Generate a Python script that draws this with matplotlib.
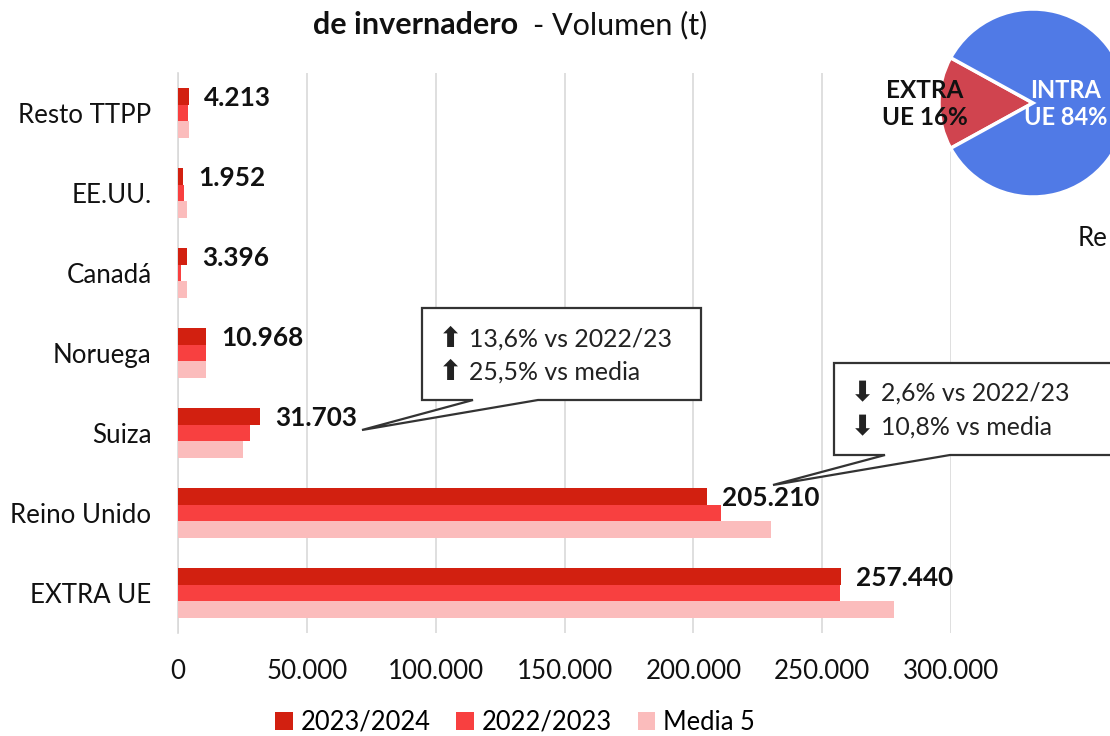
import matplotlib
matplotlib.use("Agg")
import matplotlib.pyplot as plt
from matplotlib.patches import Polygon
import numpy as np

plt.rcParams['font.family'] = ['Lato', 'DejaVu Sans']

categories = ["EXTRA UE", "Reino Unido", "Suiza", "Noruega", "Canadá", "EE.UU.", "Resto TTPP"]
v_2324 = [257440, 205210, 31703, 10968, 3396, 1952, 4213]
v_2223 = [256800, 210700, 27900, 11050, 1200, 2300, 4000]
v_media = [277700, 230100, 25300, 11000, 3300, 3500, 4400]
series_names = ["2023/2024", "2022/2023", "Media 5"]
colors = ["#D22010", "#F84040", "#FBBCBC"]
xticks = [0, 50000, 100000, 150000, 200000, 250000, 300000]
xtick_labels = ["0", "50.000", "100.000", "150.000", "200.000", "250.000", "300.000"]
pie_labels = ["EXTRA\nUE 16%", "INTRA\nUE 84%"]
pie_values = [16, 84]
pie_colors = ["#D0444F", "#507AE6"]
callout1_arrows = ["\u2b06", "\u2b06"]
callout1 = ["13,6% vs 2022/23", "25,5% vs media"]
callout2_arrows = ["\u2b07", "\u2b07"]
callout2 = ["2,6% vs 2022/23", "10,8% vs media"]

W, H = 1110, 736
fig = plt.figure(figsize=(W / 100, H / 100), dpi=100)

def fx(px):
    return px / W

def fy(py):
    return 1 - py / H

FS = 18.6

ax_l, ax_r, ax_t, ax_b = 178, 951, 73, 633
ax = fig.add_axes([fx(ax_l), fy(ax_b), fx(ax_r - ax_l), (ax_b - ax_t) / H])

y = np.arange(len(categories))
h = 0.205
ax.barh(y + h, v_2324, height=h, color=colors[0], label=series_names[0], zorder=3)
ax.barh(y, v_2223, height=h, color=colors[1], label=series_names[1], zorder=3)
ax.barh(y - h, v_media, height=h, color=colors[2], label=series_names[2], zorder=3)

ax.set_xlim(0, 300000)
ax.set_ylim(-0.5, len(categories) - 0.5)
ax.set_yticks(y)
ax.set_yticklabels(categories, fontsize=FS, color="#111111")
ax.set_xticks(xticks)
ax.set_xticklabels(xtick_labels, fontsize=FS, color="#111111")
ax.tick_params(axis='both', length=0)
ax.tick_params(axis='y', pad=19)
ax.tick_params(axis='x', pad=19)
ax.grid(axis='x', color="#D9D9D9", lw=1.2, zorder=0)
for s in ["top", "right", "bottom"]:
    ax.spines[s].set_visible(False)
ax.spines["left"].set_color("#D9D9D9")
ax.spines["left"].set_linewidth(1.2)

xpp = 300000 / (ax_r - ax_l)
for yi, v in zip(y, v_2324):
    ax.text(v + 15 * xpp, yi + h - 0.02, f"{v:,}".replace(",", "."), fontsize=18.8,
            fontweight='bold', va='center', ha='left', color="#111111", zorder=5)

def callout(box, tip, base, arrows, lines, ytext):
    x0, x1, yt, yb = box
    pts = [tip, (base[0], yb), (x0, yb), (x0, yt), (x1, yt), (x1, yb), (base[1], yb)]
    poly = Polygon(pts, closed=True, facecolor="white", edgecolor="#333333",
                   lw=1.6, clip_on=False, zorder=6, joinstyle='miter')
    ax.add_patch(poly)
    for ar, ln, yy in zip(arrows, lines, ytext):
        ax.text(x0 + 17 * xpp, yy, ar, fontsize=20, family='DejaVu Sans',
                fontweight='bold', va='center', ha='left', color="#222222",
                zorder=7, clip_on=False)
        ax.text(x0 + 47 * xpp, yy, ln, fontsize=17.9, va='center', ha='left',
                color="#222222", zorder=7, clip_on=False)

def dx(px):
    return (px - ax_l) * xpp

def dy(py):
    return (593 - py) / 80

callout((dx(422), dx(701), dy(308), dy(400)), (dx(362), dy(430)),
        (dx(473), dx(538)), callout1_arrows, callout1, (dy(339), dy(372)))
callout((dx(834), dx(1135), dy(363), dy(455)), (dx(773), dy(485)),
        (dx(885), dx(950)), callout2_arrows, callout2, (dy(393), dy(427)))

# title
fig.text(fx(313), fy(25), "de invernadero", fontsize=22, fontweight='bold',
         ha='left', va='center', color="#111111")
fig.text(fx(533), fy(25), "- Volumen (t)", fontsize=22, ha='left', va='center',
         color="#111111")

# pie
cx, cy, r = 1033, 103, 94
pax = fig.add_axes([fx(cx - r), fy(cy + r), fx(2 * r), 2 * r / H])
pax.pie(pie_values, colors=pie_colors, startangle=180 - 16 * 3.6 / 2,
        wedgeprops=dict(edgecolor="white", linewidth=2.5), radius=1)
pax.set_xlim(-1, 1)
pax.set_ylim(-1, 1)
pax.set_aspect('equal')
pax.axis('off')
fig.text(fx(925), fy(104), pie_labels[0], fontsize=17.5, fontweight='bold',
         ha='center', va='center', color="#111111", linespacing=1.2)
fig.text(fx(1066), fy(104), pie_labels[1], fontsize=17, fontweight='bold',
         ha='center', va='center', color="white", linespacing=1.2)
fig.text(fx(1078), fy(238), "Re", fontsize=FS, ha='left', va='center', color="#111111")

handles, labels = ax.get_legend_handles_labels()
fig.legend(handles, labels, loc='center', bbox_to_anchor=(fx(515), fy(722)), ncol=3,
           frameon=False, fontsize=18.4, handlelength=0.7, handleheight=0.7,
           handletextpad=0.3, columnspacing=1.0, borderaxespad=0)

fig.savefig("out.png", dpi=100)
